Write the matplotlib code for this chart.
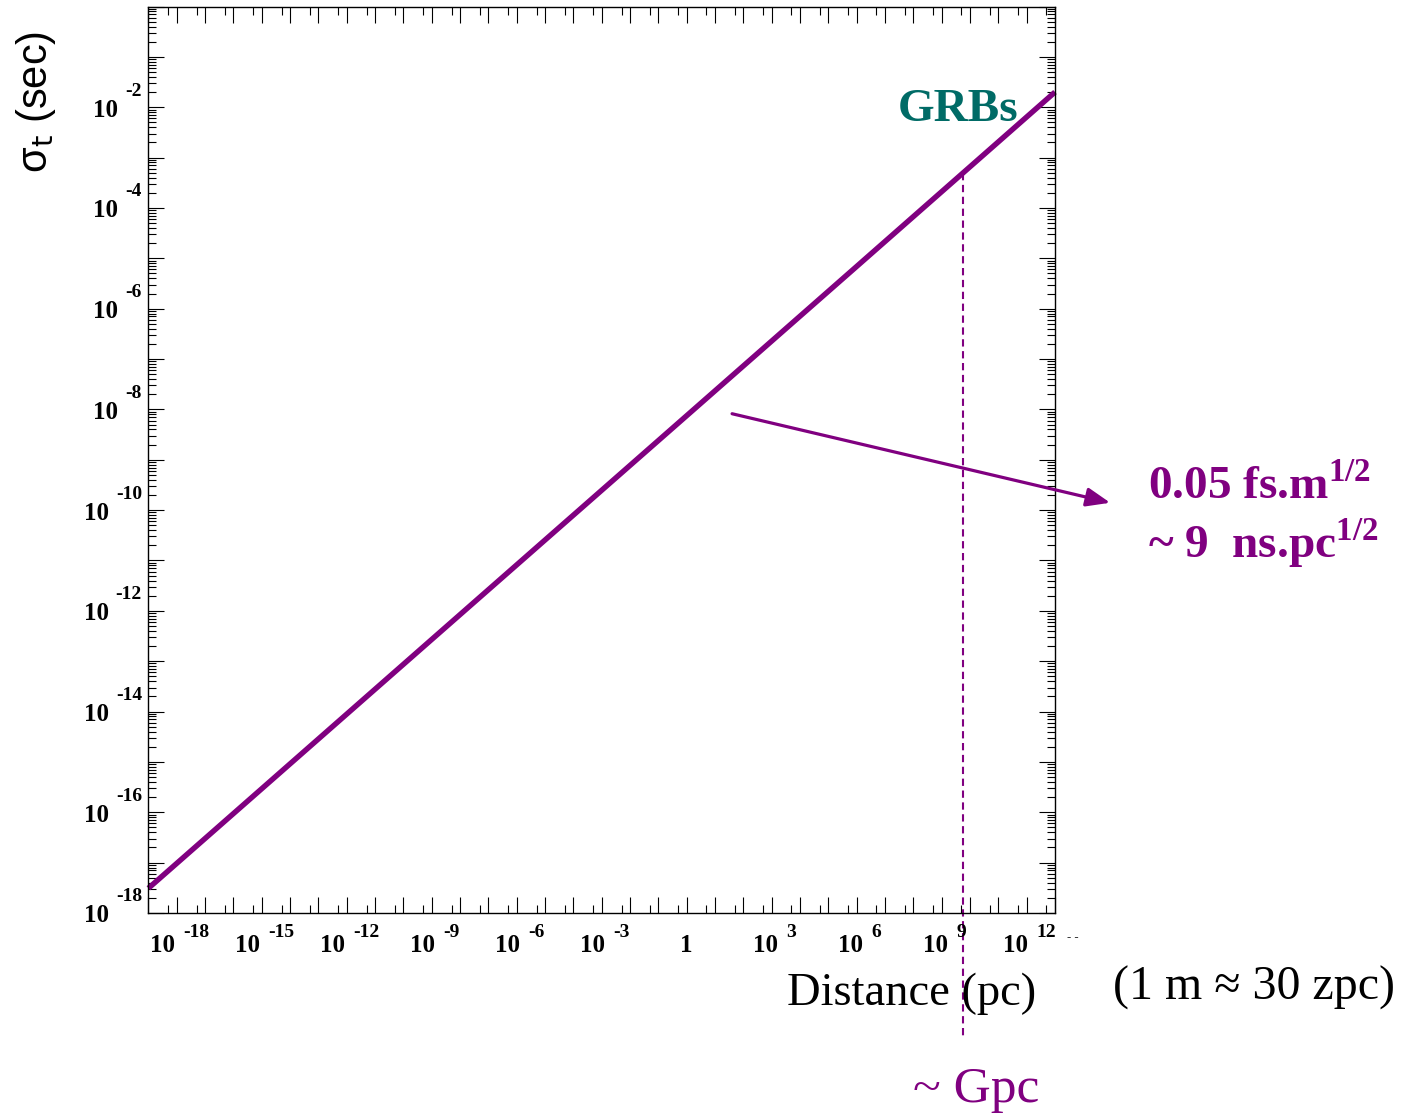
import matplotlib
matplotlib.use("Agg")
import matplotlib.pyplot as plt
from matplotlib.ticker import FixedLocator, NullFormatter

# values
distance_pc = [1e-19, 1e-9, 1.0, 1e6, 1e13]
sigma_t_sec = [3.1e-18, 2.7e-13, 7.5e-9, 6.9e-6, 2.0e-2]
gpc_distance = 5.8e9
gpc_sigma = 5.0e-4
gpc_bottom = 3.5e-21
arrow_tail = (40.0, 8.2e-9)
arrow_head = (8.9e14, 1.4e-10)
x_label_exps = [-18, -15, -12, -9, -6, -3, 0, 3, 6, 9, 12]
y_label_exps = [-18, -16, -14, -12, -10, -8, -6, -4, -2]

PURPLE = "#800080"
TEAL = "#006b66"
W, H = 1410, 1115

plt.rcParams["font.family"] = ["Liberation Serif", "DejaVu Serif"]
plt.rcParams["mathtext.fontset"] = "custom"
plt.rcParams["mathtext.rm"] = "Liberation Serif"
plt.rcParams["mathtext.bf"] = "Liberation Serif:bold"


def fx(x):
    return x / W


def fy(y):
    return 1 - y / H


def exp_width(e, size_px=19.4):
    # rough width of the exponent string in pixels (Times bold metrics)
    s = str(e)
    return sum(0.333 if c == "-" else 0.5 for c in s) * size_px


fig = plt.figure(figsize=(W / 100, H / 100), dpi=100)
ax = fig.add_axes([fx(148.4), fy(913), fx(1055) - fx(148.4), fy(6.5) - fy(913)])
ax.set_xscale("log")
ax.set_yscale("log")
ax.set_xlim(1e-19, 1e13)
ax.set_ylim(1e-18, 1e0)

# main curve
ax.plot(distance_pc, sigma_t_sec, color=PURPLE, lw=3.9, solid_capstyle="butt", clip_on=False)

# dashed marker at ~Gpc, runs down below the frame
ax.plot([gpc_distance, gpc_distance], [gpc_sigma, gpc_bottom], color=PURPLE, lw=1.5,
        linestyle=(0, (3.5, 2.2)), clip_on=False)

# arrow pointing to the slope annotation
ax.annotate("", xy=arrow_head, xytext=arrow_tail, annotation_clip=False,
            arrowprops=dict(arrowstyle="-|>,head_length=0.48,head_width=0.19",
                            mutation_scale=30, color=PURPLE, lw=2.3,
                            shrinkA=0, shrinkB=0))

# ROOT-like ticks on every side
ax.xaxis.set_major_locator(FixedLocator([10.0 ** e for e in range(-19, 14)]))
ax.xaxis.set_minor_locator(FixedLocator([5 * 10.0 ** e for e in range(-19, 13)]))
ax.yaxis.set_major_locator(FixedLocator([10.0 ** e for e in range(-18, 1)]))
ax.yaxis.set_minor_locator(FixedLocator([k * 10.0 ** e for e in range(-18, 0) for k in range(2, 10)]))
ax.xaxis.set_minor_formatter(NullFormatter())
ax.yaxis.set_minor_formatter(NullFormatter())
ax.tick_params(which="both", direction="in", top=True, right=True,
               labelbottom=False, labelleft=False, width=0.8, color="black")
ax.tick_params(which="major", length=11.5)
ax.tick_params(which="minor", length=5.8)
for sp in ax.spines.values():
    sp.set_linewidth(1.0)

lab = dict(fontweight="bold", color="black", annotation_clip=False, textcoords="offset pixels")

# x tick labels: "10" plus raised exponent, roughly centred on the tick
for e in x_label_exps:
    xy = (10.0 ** e, 0)
    if e == 0:
        ax.annotate("1", xy=xy, xycoords=("data", "axes fraction"), xytext=(0, -39),
                    ha="center", va="baseline", fontsize=18, **lab)
        continue
    total = 25 + 8 + exp_width(e)
    left = 3 - total / 2
    ax.annotate("10", xy=xy, xycoords=("data", "axes fraction"), xytext=(left, -39),
                ha="left", va="baseline", fontsize=18, **lab)
    ax.annotate(str(e), xy=xy, xycoords=("data", "axes fraction"), xytext=(left + 33, -24),
                ha="left", va="baseline", fontsize=14, **lab)

# y tick labels
for e in y_label_exps:
    xy = (0, 10.0 ** e)
    ax.annotate(str(e), xy=xy, xycoords=("axes fraction", "data"), xytext=(-6.4, 11.5),
                ha="right", va="baseline", fontsize=14, **lab)
    ax.annotate("10", xy=xy, xycoords=("axes fraction", "data"),
                xytext=(-6.4 - exp_width(e) - 7.5, -9.5),
                ha="right", va="baseline", fontsize=18, **lab)

# stray marks after the last x label
fig.text(fx(1067), fy(940), "- -", fontsize=9, fontweight="bold", va="baseline")

# axis titles
fig.text(fx(36), fy(102), "\u03c3$_{\\mathrm{t}}$ (sec)", rotation=90, ha="center", va="center",
         fontsize=30, family="Liberation Sans", math_fontfamily="dejavusans")
fig.text(fx(787), fy(1005), "Distance (pc)", fontsize=33.5, va="baseline")
fig.text(fx(1113), fy(1000), "(1 m \u2248 30 zpc)", fontsize=34.5, va="baseline")
fig.text(fx(913), fy(1102), "~ Gpc", fontsize=37, va="baseline", color=PURPLE)

# annotations
fig.text(fx(898), fy(121), "GRBs", fontsize=34, fontweight="bold", color=TEAL, va="baseline")
fig.text(fx(1148), fy(499), r"0.05 fs.m$^{\mathbf{1/2}}$", fontsize=34, fontweight="bold",
         color=PURPLE, va="baseline")
fig.text(fx(1148), fy(558), r"~ 9  ns.pc$^{\mathbf{1/2}}$", fontsize=34, fontweight="bold",
         color=PURPLE, va="baseline")

fig.savefig("out.png", dpi=100, facecolor="white")
